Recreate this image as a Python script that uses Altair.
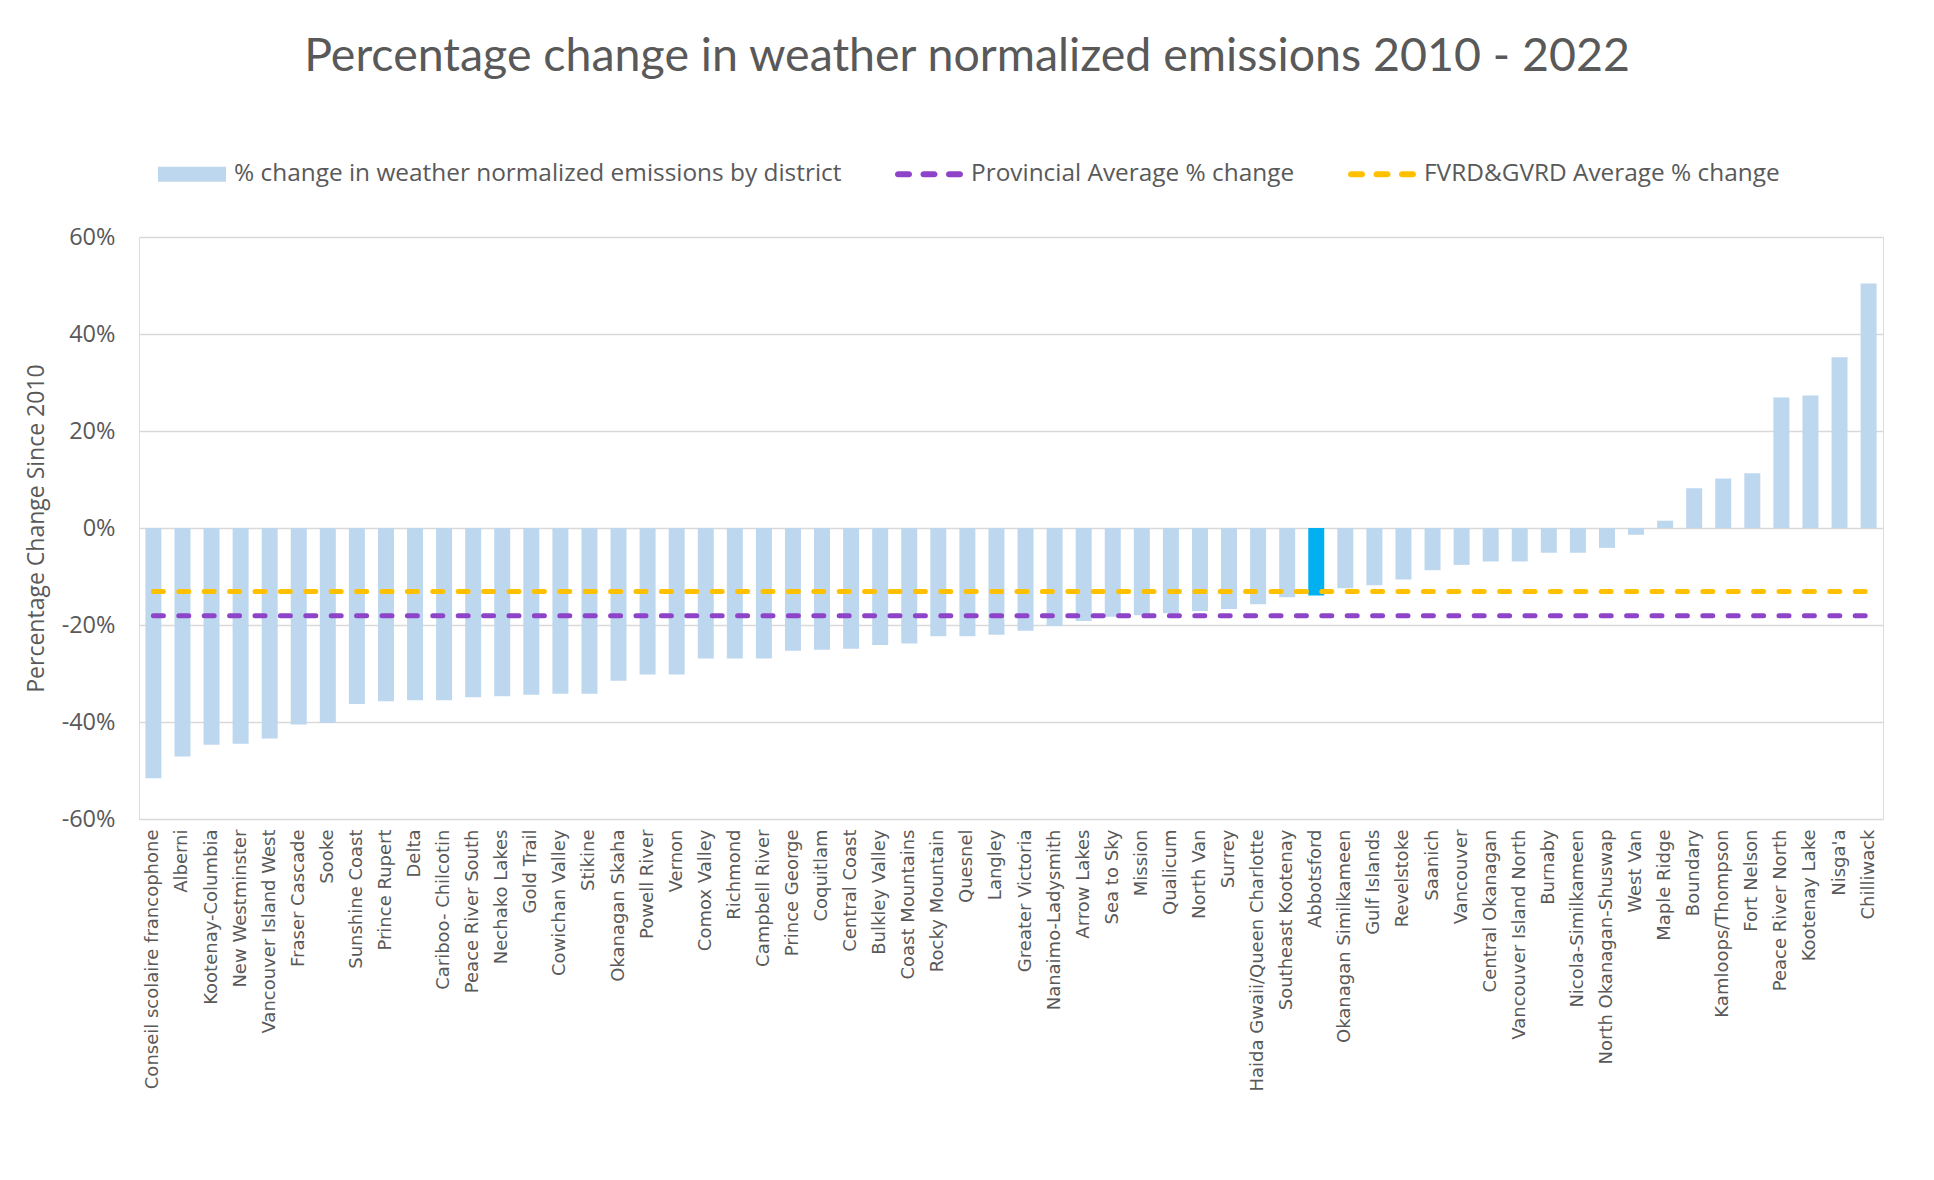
import altair as alt
import pandas as pd

# ---------------- data ----------------
districts = [
    "Conseil scolaire francophone", "Alberni", "Kootenay-Columbia", "New Westminster",
    "Vancouver Island West", "Fraser Cascade", "Sooke", "Sunshine Coast", "Prince Rupert",
    "Delta", "Cariboo- Chilcotin", "Peace River South", "Nechako Lakes", "Gold Trail",
    "Cowichan Valley", "Stikine", "Okanagan Skaha", "Powell River", "Vernon", "Comox Valley",
    "Richmond", "Campbell River", "Prince George", "Coquitlam", "Central Coast",
    "Bulkley Valley", "Coast Mountains", "Rocky Mountain", "Quesnel", "Langley",
    "Greater Victoria", "Nanaimo-Ladysmith", "Arrow Lakes", "Sea to Sky", "Mission",
    "Qualicum", "North Van", "Surrey", "Haida Gwaii/Queen Charlotte", "Southeast Kootenay",
    "Abbotsford", "Okanagan Similkameen", "Gulf Islands", "Revelstoke", "Saanich",
    "Vancouver", "Central Okanagan", "Vancouver Island North", "Burnaby",
    "Nicola-Similkameen", "North Okanagan-Shuswap", "West Van", "Maple Ridge", "Boundary",
    "Kamloops/Thompson", "Fort Nelson", "Peace River North", "Kootenay Lake", "Nisga'a",
    "Chilliwack",
]
pct_change = [
    -51.6, -47.1, -44.7, -44.5, -43.4, -40.5, -40.2, -36.3, -35.7,
    -35.5, -35.5, -34.9, -34.7, -34.4, -34.2, -34.2, -31.5, -30.2, -30.2, -26.9,
    -26.9, -26.9, -25.3, -25.1, -24.9, -24.1, -23.8, -22.3, -22.3, -22.0,
    -21.2, -20.2, -19.2, -18.3, -18.0, -17.6, -17.1, -16.7, -15.7, -14.3,
    -13.9, -12.4, -11.8, -10.6, -8.7, -7.6, -6.9, -6.9, -5.1,
    -5.1, -4.1, -1.4, 1.5, 8.2, 10.2, 11.3, 26.9, 27.3, 35.2, 50.4,
]
highlight_district = "Abbotsford"
avg_values = [-18.1, -13.1]          # Provincial, FVRD&GVRD
y_ticks = [-60, -40, -20, 0, 20, 40, 60]

series_labels = [
    "% change in weather normalized emissions by district",
    "Provincial Average % change",
    "FVRD&GVRD Average % change",
]
series_colors = ["#BDD7EE", "#8E44C8", "#FFC000"]
highlight_color = "#00B0F0"

title_text = "Percentage change in weather normalized emissions 2010 - 2022"
y_title = "Percentage Change Since 2010"

# ---------------- tables ----------------
bars_df = pd.DataFrame({"district": districts, "value": pct_change})
legend_df = pd.DataFrame({"series": series_labels})

bar_path = "M-1,-0.22H1V0.22H-1Z"
def dash(a, b, r=0.09):
    return (f"M{a + r},{-r}H{b - r}A{r},{r} 0 0 1 {b - r},{r}"
            f"H{a + r}A{r},{r} 0 0 1 {a + r},{-r}Z")
dash_path = dash(-1, -0.5) + dash(-0.25, 0.25) + dash(0.5, 1)

color_scale = alt.Scale(domain=series_labels, range=series_colors)
shape_scale = alt.Scale(domain=series_labels, range=[bar_path, dash_path, dash_path])

x_enc = alt.X(
    "district:N", sort=districts, title=None,
    scale=alt.Scale(paddingInner=0.45, paddingOuter=0.22),
    axis=alt.Axis(labelAngle=-90, labelFont="DejaVu Sans", labelFontSize=18,
                  labelColor="#595959", labelPadding=10, ticks=False, domain=False,
                  labelOverlap=False, labelLimit=400),
)
y_scale = alt.Scale(domain=[-60, 60], nice=False)
y_axis = alt.Axis(values=y_ticks, labelExpr="datum.value + '%'", title=y_title,
                  labelFont="Open Sans", labelFontSize=23.5, labelColor="#595959",
                  labelPadding=24, ticks=False, domain=False,
                  titleFont="Open Sans", titleFontSize=23, titleFontWeight="normal",
                  titleColor="#595959", titlePadding=13,
                  grid=True, gridColor="#D9D9D9", gridWidth=1.5)

bars = alt.Chart(bars_df).mark_bar().encode(
    x=x_enc,
    y=alt.Y("value:Q", scale=y_scale, axis=y_axis),
    color=alt.condition(
        alt.datum.district == highlight_district,
        alt.value(highlight_color),
        alt.value(series_colors[0]),
    ),
)

line_layers = []
for val, col in zip(avg_values, series_colors[1:]):
    df = pd.DataFrame({"district": districts, "value": val})
    line_layers.append(
        alt.Chart(df).mark_line(
            strokeWidth=5, strokeDash=[10, 15.4], strokeCap="round", color=col
        ).encode(
            x=alt.X("district:N", sort=districts),
            y=alt.Y("value:Q", scale=y_scale),
        )
    )

legend_cfg = dict(
    title=None, orient="none", legendX=19, legendY=-97, direction="horizontal",
    columns=3, symbolSize=4624, symbolStrokeWidth=0, symbolOpacity=1,
    labelFont="Open Sans", labelFontSize=24.4, labelColor="#595959",
    labelOffset=8, columnPadding=52, padding=0, labelLimit=900,
)
legend_layer = alt.Chart(legend_df).mark_point(filled=True).encode(
    x=alt.value(0), y=alt.value(0),
    opacity=alt.value(0),
    color=alt.Color("series:N", scale=color_scale, legend=alt.Legend(**legend_cfg)),
    shape=alt.Shape("series:N", scale=shape_scale, legend=alt.Legend(**legend_cfg)),
)

chart = alt.layer(bars, *line_layers, legend_layer).properties(
    width=1744, height=582,
    title=alt.Title(title_text, font="Lato", fontSize=46.5, fontWeight="normal",
                    color="#595959", anchor="middle", frame="group", dx=-44, offset=60),
    autosize=alt.AutoSizeParams(type="none"),
    padding={"left": 131, "top": 229, "right": 35, "bottom": 345},
).configure_view(stroke=None).configure(background="white")

chart.save("out.html", embed_options={"renderer": "svg", "actions": False})
